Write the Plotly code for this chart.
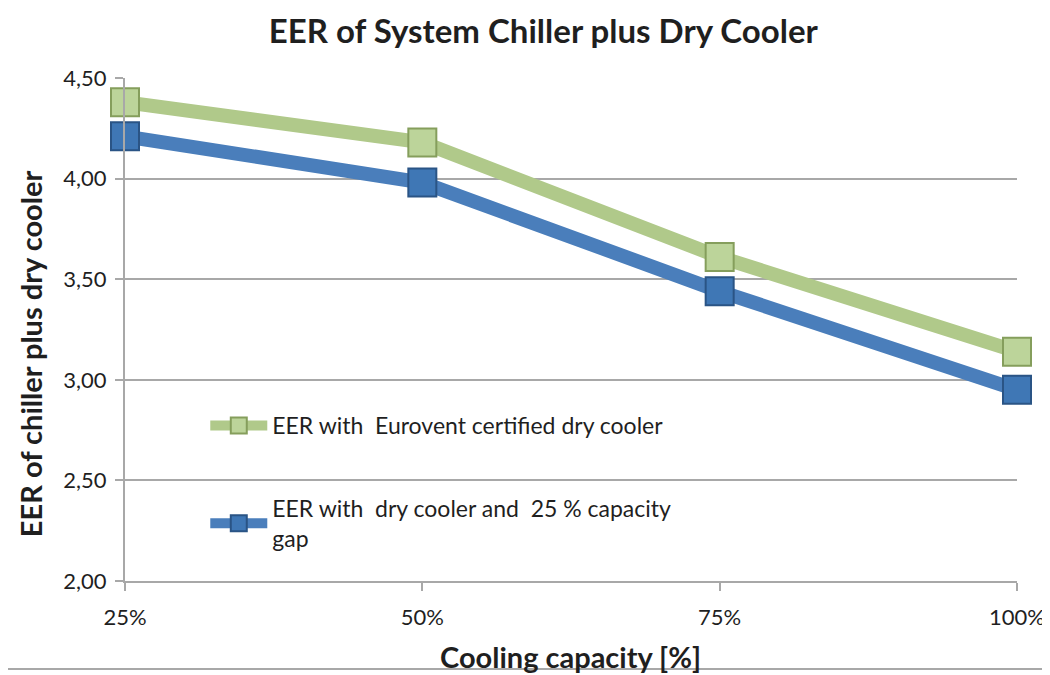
import plotly.graph_objects as go

capacity = ["25%", "50%", "75%", "100%"]
eer_eurovent = [4.38, 4.18, 3.61, 3.14]
eer_gap = [4.21, 3.98, 3.44, 2.95]
y_ticks = [2.0, 2.5, 3.0, 3.5, 4.0, 4.5]
y_tick_labels = ["2,00", "2,50", "3,00", "3,50", "4,00", "4,50"]

green = "#B0C98A"
green_dark = "#859E5C"
blue = "#4A7EBB"
blue_dark = "#2A5485"

fig = go.Figure()
fig.add_trace(go.Scatter(
    x=capacity, y=eer_eurovent, mode="lines+markers",
    name="EER with  Eurovent certified dry cooler",
    legendgroup="a",
    line=dict(color=green, width=14),
    marker=dict(symbol="square", size=28, color="#BCD49A", line=dict(color=green_dark, width=2)),
    cliponaxis=False,
))
fig.add_trace(go.Scatter(
    x=capacity, y=eer_gap, mode="lines+markers",
    name="EER with  dry cooler and  25 % capacity<br>gap",
    legendgroup="b",
    line=dict(color=blue, width=14),
    marker=dict(symbol="square", size=28, color="#3F77B5", line=dict(color=blue_dark, width=2)),
    cliponaxis=False,
))

font_family = "Lato, Open Sans, sans-serif"
txt = "#1f1f1f"

fig.update_layout(
    width=1050, height=675,
    margin=dict(l=117, r=41, t=70, b=102),
    paper_bgcolor="white", plot_bgcolor="white",
    font=dict(family=font_family, size=22, color=txt),
    title=dict(text="<b>EER of System Chiller plus Dry Cooler</b>",
               xref="paper", x=0.469, xanchor="center",
               yref="container", y=0.966, yanchor="middle",
               font=dict(size=33, color=txt)),
    xaxis=dict(
        type="category", range=[0, 3],
        showgrid=False, showline=True, linecolor="#A8A8A8", linewidth=2,
        ticks="outside", ticklen=8, tickcolor="#A8A8A8", tickwidth=1.5,
        tickfont=dict(size=22, color=txt), ticklabelstandoff=8,
    ),
    yaxis=dict(
        range=[2.0, 4.5], tickvals=y_ticks, ticktext=y_tick_labels,
        showgrid=True, gridcolor="#A8A8A8", gridwidth=1.5,
        showline=True, linecolor="#A8A8A8", linewidth=2,
        ticks="outside", ticklen=8, tickcolor="#A8A8A8", tickwidth=1.5,
        tickfont=dict(size=22, color=txt), ticklabelstandoff=4,
        zeroline=False,
    ),
    legend=dict(
        x=0.09, y=0.352, xanchor="left", yanchor="top",
        bgcolor="rgba(0,0,0,0)", tracegroupgap=50,
        font=dict(size=23, color=txt),
        itemwidth=57,
    ),
    showlegend=True,
)

fig.add_annotation(text="<b>Cooling capacity [%]</b>", xref="paper", yref="paper",
                   x=0.499, y=-0.150, xanchor="center", yanchor="middle",
                   showarrow=False, font=dict(size=29, color=txt))
fig.add_annotation(text="<b>EER of chiller plus dry cooler</b>", xref="paper", yref="paper",
                   x=-0.1065, y=0.451, xanchor="center", yanchor="middle", textangle=-90,
                   showarrow=False, font=dict(size=29, color=txt))

fig.add_shape(type="line", xref="paper", yref="paper",
              x0=-0.14, x1=1.04, y0=-0.175, y1=-0.175,
              line=dict(color="#A8A8A8", width=2))

fig.write_html("out.html")
